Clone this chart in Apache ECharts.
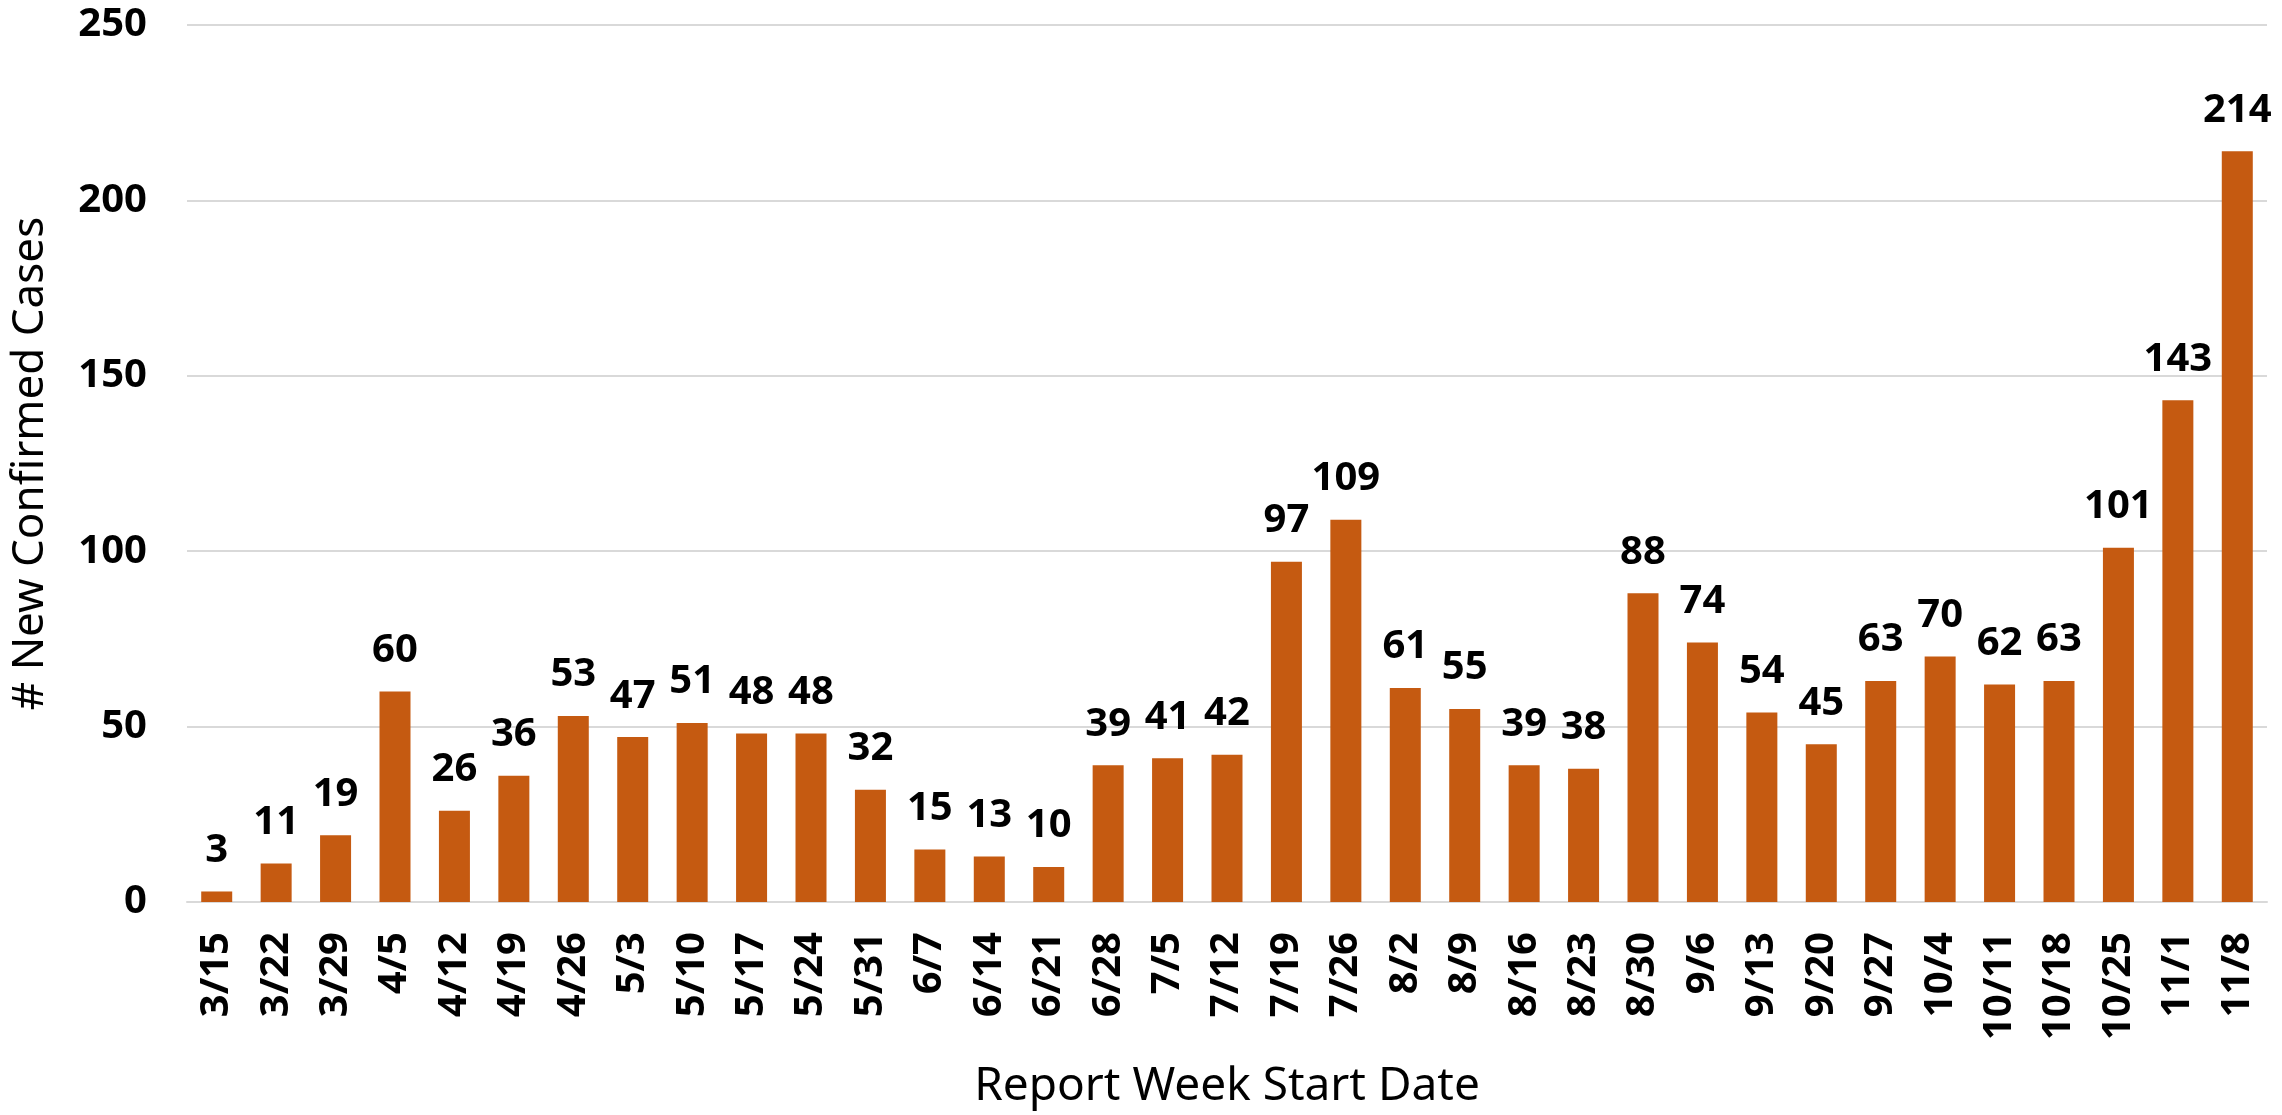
<!DOCTYPE html>
<html>
<head>
<meta charset="utf-8">
<script src="https://cdn.jsdelivr.net/npm/echarts@6/dist/echarts.min.js"></script>
<style>
  html, body { margin: 0; padding: 0; background: #fff; }
  #chart { width: 2282px; height: 1115px; }
</style>
</head>
<body>
<div id="chart"></div>
<script>
// 周起始日期
const weeks = ['3/15', '3/22', '3/29', '4/5', '4/12', '4/19', '4/26', '5/3', '5/10', '5/17',
  '5/24', '5/31', '6/7', '6/14', '6/21', '6/28', '7/5', '7/12', '7/19', '7/26',
  '8/2', '8/9', '8/16', '8/23', '8/30', '9/6', '9/13', '9/20', '9/27', '10/4',
  '10/11', '10/18', '10/25', '11/1', '11/8']
// 新增确诊
const newCases = [3, 11, 19, 60, 26, 36, 53, 47, 51, 48,
  48, 32, 15, 13, 10, 39, 41, 42, 97, 109,
  61, 55, 39, 38, 88, 74, 54, 45, 63, 70,
  62, 63, 101, 143, 214]
const yTicks = [0, 50, 100, 150, 200, 250]

const font = "'Noto Sans', sans-serif"
const barColor = '#C55A11'
const gridColor = '#D9D9D9'

let dom = echarts.init(document.getElementById('chart'))
let option = {
  animation: false,
  grid: {
    left: 186,
    right: 15,
    top: 25,
    bottom: 209
  },
  xAxis: {
    type: 'category',
    data: weeks,
    name: 'Report Week Start Date',
    nameLocation: 'middle',
    nameGap: 162,
    nameTextStyle: {
      fontFamily: font,
      fontSize: 46,
      color: '#000'
    },
    axisLine: { lineStyle: { color: gridColor, width: 2 } },
    axisTick: { show: false },
    axisLabel: {
      interval: 0,
      rotate: 90,
      margin: 30,
      fontFamily: font,
      fontWeight: 'bold',
      fontSize: 40,
      color: '#000'
    }
  },
  yAxis: {
    type: 'value',
    min: yTicks[0],
    max: yTicks[yTicks.length - 1],
    interval: 50,
    name: '# New Confirmed Cases',
    nameLocation: 'middle',
    nameGap: 135,
    nameTextStyle: {
      fontFamily: font,
      fontSize: 44,
      color: '#000'
    },
    axisLine: { show: false },
    axisTick: { show: false },
    splitLine: { lineStyle: { color: gridColor, width: 2 } },
    axisLabel: {
      margin: 40,
      fontFamily: font,
      fontWeight: 'bold',
      fontSize: 40,
      color: '#000'
    }
  },
  series: [{
    type: 'bar',
    data: newCases,
    barWidth: 31,
    itemStyle: { color: barColor },
    label: {
      show: true,
      position: 'top',
      distance: 21,
      fontFamily: font,
      fontWeight: 'bold',
      fontSize: 40,
      color: '#000'
    }
  }]
}
dom.setOption(option)
window.addEventListener('resize', () => dom.resize())
</script>
</body>
</html>
